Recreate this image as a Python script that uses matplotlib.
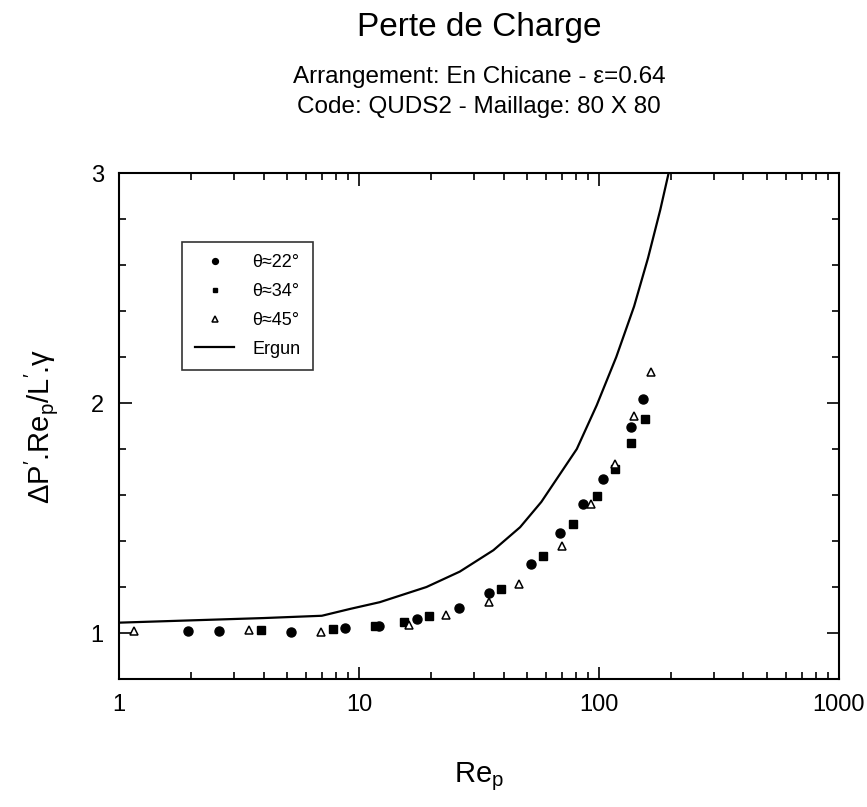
import matplotlib
matplotlib.use('Agg')
import matplotlib.pyplot as plt
from matplotlib.ticker import FixedLocator, NullFormatter, MultipleLocator
import numpy as np

plt.rcParams['font.family'] = ['Liberation Sans', 'DejaVu Sans']
plt.rcParams['mathtext.default'] = 'regular'

# data
re_22 = [1.94, 2.62, 5.2, 8.7, 12.1, 17.4, 26.1, 34.7, 51.9, 68.8, 86.0, 103.6, 136, 152.5]
y_22 = [1.01, 1.007, 1.003, 1.021, 1.03, 1.062, 1.108, 1.173, 1.30, 1.436, 1.56, 1.671, 1.895, 2.017]

re_34 = [3.91, 7.8, 11.7, 15.4, 19.6, 39.2, 58.6, 78.2, 97.8, 117, 136, 155.5]
y_34 = [1.014, 1.019, 1.032, 1.05, 1.072, 1.192, 1.335, 1.472, 1.596, 1.711, 1.827, 1.931]

re_45 = [1.15, 3.49, 6.92, 16.2, 23.0, 34.7, 46.4, 69.9, 92.9, 116.6, 139.5, 164.2]
y_45 = [1.007, 1.014, 1.004, 1.036, 1.077, 1.137, 1.213, 1.378, 1.56, 1.736, 1.942, 2.137]

re_ergun = [1, 2, 4, 7, 9.2, 12.2, 19.1, 26.3, 36.3, 46.9, 57.5, 80.8, 97.8, 118, 140, 160, 180, 200]
y_ergun = [1.045, 1.055, 1.065, 1.075, 1.105, 1.134, 1.2, 1.267, 1.36, 1.46, 1.57, 1.8, 1.99, 2.2, 2.42, 2.63, 2.84, 3.05]

fig = plt.figure(figsize=(8.67, 8.07), dpi=100)
ax = fig.add_axes([0.1373, 0.1586, 0.8304, 0.627])

ax.plot(re_22, y_22, 'o', color='black', ms=6.5, label='θ≈22°', zorder=3)
ax.plot(re_34, y_34, 's', color='black', ms=5.5, label='θ≈34°', zorder=3)
ax.plot(re_45, y_45, '^', mfc='white', mec='black', mew=1.1, ms=6, label='θ≈45°', zorder=3)
ax.plot(re_ergun, y_ergun, '-', color='black', lw=1.6, label='Ergun', zorder=2)

ax.set_xscale('log')
ax.set_xlim(1, 1000)
ax.set_ylim(0.8, 3)

ax.xaxis.set_major_locator(FixedLocator([1, 10, 100, 1000]))
ax.set_xticklabels(['1', '10', '100', '1000'])
minors = [m * d for d in [1, 10, 100] for m in range(2, 10)]
ax.xaxis.set_minor_locator(FixedLocator(minors))
ax.xaxis.set_minor_formatter(NullFormatter())
ax.yaxis.set_major_locator(FixedLocator([1, 2, 3]))
ax.set_yticklabels(['1', '2', '3'])
ax.yaxis.set_minor_locator(MultipleLocator(0.2))

ax.tick_params(which='both', direction='in', top=True, right=True, width=1.2, labelsize=17)
ax.tick_params(which='major', length=9, pad=11)
ax.tick_params(which='minor', length=5)
for s in ax.spines.values():
    s.set_linewidth(1.5)

ax.set_xlabel('Re$_p$', fontsize=21, labelpad=32)
ax.set_ylabel("ΔP$'$.Re$_p$/L$'$.γ", fontsize=21, labelpad=22)

leg = ax.legend(loc='upper left', bbox_to_anchor=(0.075, 0.882), fontsize=13,
                markerscale=0.65, frameon=True, fancybox=False, edgecolor='black',
                handlelength=2.2, labelspacing=0.65, borderpad=0.7, handletextpad=1.0)
leg.get_frame().set_linewidth(1.2)

fig.text(0.5525, 0.966, 'Perte de Charge', ha='center', va='center', fontsize=24)
fig.text(0.5525, 0.905, 'Arrangement: En Chicane - ε=0.64', ha='center', va='center', fontsize=17.5)
fig.text(0.5525, 0.867, 'Code: QUDS2 - Maillage: 80 X 80', ha='center', va='center', fontsize=17.5)

fig.savefig('out.png', dpi=100)
